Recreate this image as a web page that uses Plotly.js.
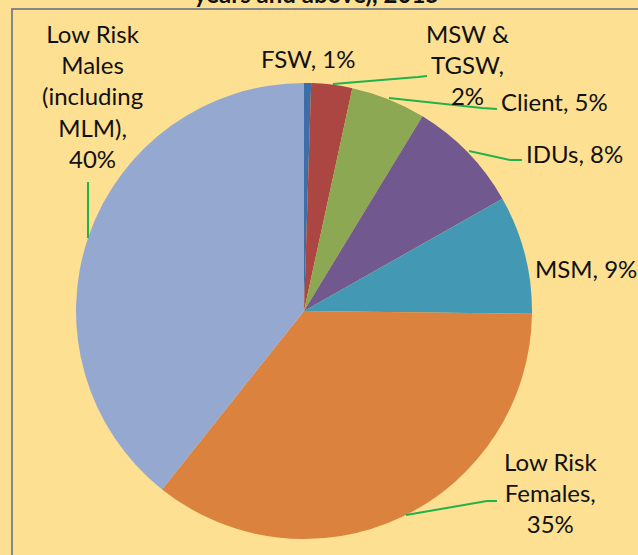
<!DOCTYPE html>
<html>
<head>
<meta charset="utf-8">
<script src="https://cdn.plot.ly/plotly-3.0.1.min.js"></script>
<style>html,body{margin:0;padding:0;background:#FEE092;}#chart{width:638px;height:555px;}</style>
</head>
<body>
<div id="chart"></div>
<script>
// Data (clockwise from 12 o'clock)
const categories = ["FSW", "MSW & TGSW", "Client", "IDUs", "MSM", "Low Risk Females", "Low Risk Males (including MLM)"];
const shares = [0.5, 2.9, 5.3, 8.1, 8.4, 35.5, 39.3];
const pctLabels = ["1%", "2%", "5%", "8%", "9%", "35%", "40%"];
const labelLines = ["FSW", "MSW &<br>TGSW", "Client", "IDUs", "MSM", "Low Risk<br>Females", "Low Risk<br>Males<br>(including<br>MLM)"];
const labelSep = [" ", "<br>", " ", " ", " ", "<br>", "<br>"];
const sliceColors = ["#3E6EA8", "#AC4643", "#8CA852", "#71588F", "#4399B4", "#DB823F", "#95A9D0"];
const titleText = "years and above), 2015";

const W = 638, H = 555;
const px = x => x / W;
const py = y => 1 - y / H;

// label placement (pixel centres) and leader-line paths
const labelPos = [[308, 58], [467, 64], [554, 101], [574, 153], [586, 269], [550, 492], [92, 96]];
const leaders = [
  null,
  [[333, 84], [418, 77], [427, 76]],
  [[389, 98], [482, 108], [497, 109]],
  [[469, 151], [510, 160], [522, 160]],
  null,
  [[406, 515], [487, 501], [497, 501]],
  [[88, 182], [88, 238]]
];

const cx = 304, cy = 311, r = 228;

const trace = {
  type: "pie",
  labels: categories,
  values: shares,
  sort: false,
  direction: "clockwise",
  rotation: 0,
  marker: {colors: sliceColors, line: {width: 0}},
  textinfo: "none",
  hoverinfo: "label+percent",
  showlegend: false,
  domain: {x: [px(cx - r), px(cx + r)], y: [py(cy + r), py(cy - r)]}
};

const font = {family: "Lato, 'Open Sans', sans-serif", size: 24, color: "#111111"};

const annotations = categories.map((c, i) => ({
  text: labelLines[i] + "," + labelSep[i] + pctLabels[i],
  x: px(labelPos[i][0]), y: py(labelPos[i][1]),
  xref: "paper", yref: "paper",
  xanchor: "center", yanchor: "middle",
  showarrow: false, align: "center",
  font: font
}));
annotations.push({
  text: "<b>" + titleText + "</b>",
  x: px(316), y: py(10), xref: "paper", yref: "paper",
  xanchor: "center", yanchor: "bottom", showarrow: false,
  font: {family: "Lato, sans-serif", size: 24, color: "#111111"}
});

const shapes = [{
  type: "rect", xref: "paper", yref: "paper",
  x0: px(12), x1: 1.2, y0: -0.2, y1: py(9),
  line: {color: "#878787", width: 2}, fillcolor: "rgba(0,0,0,0)", layer: "below"
}];
leaders.forEach(l => {
  if (!l) return;
  const d = l.map((p, k) => (k ? "L" : "M") + px(p[0]) + "," + py(p[1])).join(" ");
  shapes.push({type: "path", xref: "paper", yref: "paper", path: d,
    line: {color: "#22B24C", width: 2}});
});

const layout = {
  width: W, height: H,
  margin: {l: 0, r: 0, t: 0, b: 0},
  paper_bgcolor: "#FEE092",
  plot_bgcolor: "#FEE092",
  annotations: annotations,
  shapes: shapes
};

Plotly.newPlot("chart", [trace], layout, {displayModeBar: false, staticPlot: true});
</script>
</body>
</html>
